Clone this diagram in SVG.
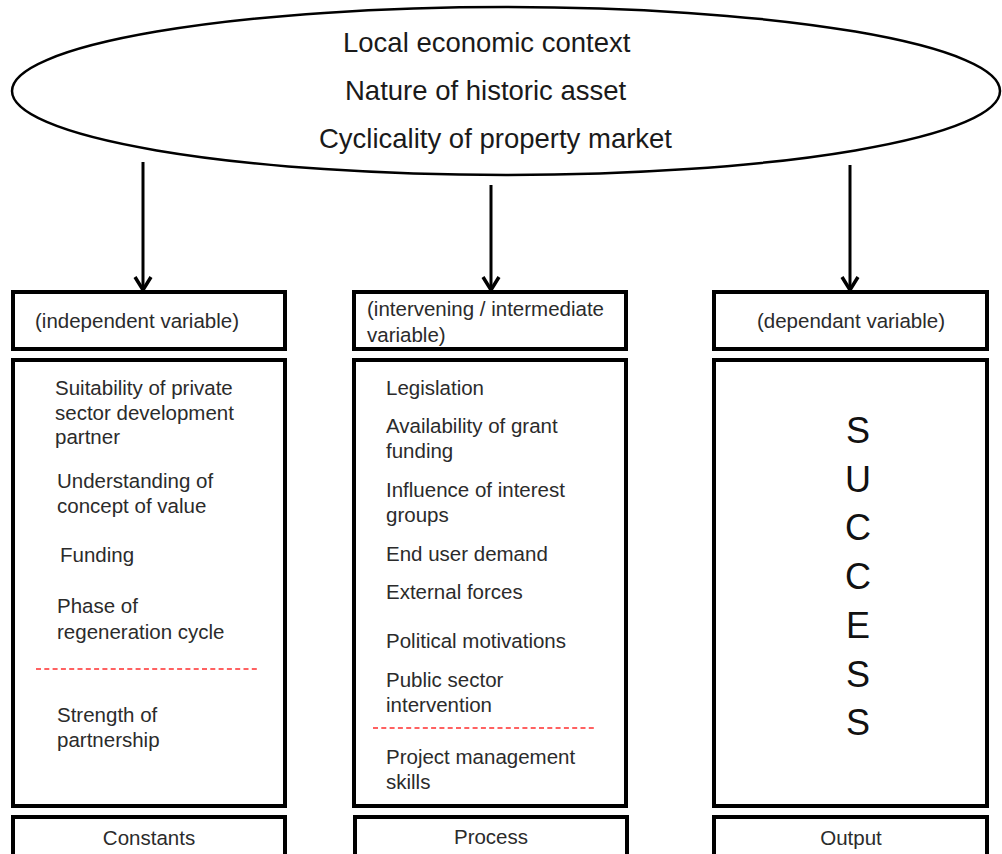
<svg xmlns="http://www.w3.org/2000/svg" width="1002" height="854" viewBox="0 0 1002 854">
<style>
  .box { fill: #ffffff; stroke: #000000; stroke-width: 4; }
  .t { font-family: "Liberation Sans", Arial, sans-serif; font-size: 20.5px; fill: #2b2b2b; }
  .big { font-family: "Liberation Sans", Arial, sans-serif; font-size: 27.5px; fill: #1a1a1a; }
  .succ { font-family: "Liberation Sans", Arial, sans-serif; font-size: 36px; fill: #111111; text-anchor: middle; }
  .mid { text-anchor: middle; }
  .dash { stroke: #ff2e2e; stroke-width: 1.7; stroke-dasharray: 5 3.3; fill: none; }
  .conn { stroke: #000000; stroke-width: 3; fill: none; }
</style>
<defs>
  <marker id="arr" markerUnits="userSpaceOnUse" viewBox="-20 -12 24 24" markerWidth="24" markerHeight="24" refX="0" refY="0" orient="auto">
    <path d="M-14,-8 L-1,0 L-14,8" fill="none" stroke="#000000" stroke-width="3.5" stroke-linejoin="miter"/>
  </marker>
</defs>
<rect width="1002" height="854" fill="#ffffff"/>

<g id="context">
  <ellipse cx="506" cy="91" rx="494" ry="84" fill="#ffffff" stroke="#000000" stroke-width="2.5"/>
  <text class="big" x="343" y="52">Local economic context</text>
  <text class="big" x="345" y="100">Nature of historic asset</text>
  <text class="big" x="319" y="148">Cyclicality of property market</text>
</g>

<g id="connectors">
  <line class="conn" x1="143" y1="162" x2="143" y2="291" marker-end="url(#arr)"/>
  <line class="conn" x1="491" y1="185" x2="491" y2="291" marker-end="url(#arr)"/>
  <line class="conn" x1="850" y1="165" x2="850" y2="291" marker-end="url(#arr)"/>
</g>

<g id="independent-header">
  <rect class="box" x="13" y="292" width="272" height="57"/>
  <text class="t" x="35" y="328">(independent variable)</text>
</g>

<g id="independent-list">
  <rect class="box" x="13" y="360" width="272" height="446"/>
  <text class="t" x="55" y="395">Suitability of private</text>
  <text class="t" x="55" y="420">sector development</text>
  <text class="t" x="55" y="444">partner</text>
  <text class="t" x="57" y="488">Understanding of</text>
  <text class="t" x="57" y="513">concept of value</text>
  <text class="t" x="60" y="562">Funding</text>
  <text class="t" x="57" y="613">Phase of</text>
  <text class="t" x="57" y="639">regeneration cycle</text>
  <line class="dash" x1="36" y1="669" x2="260" y2="669"/>
  <text class="t" x="57" y="722">Strength of</text>
  <text class="t" x="57" y="747">partnership</text>
</g>

<g id="constants">
  <rect class="box" x="13" y="817" width="272" height="60"/>
  <text class="t mid" x="149" y="845">Constants</text>
</g>

<g id="intervening-header">
  <rect class="box" x="354" y="292" width="272" height="57"/>
  <text class="t" x="367" y="316">(intervening / intermediate</text>
  <text class="t" x="367" y="342">variable)</text>
</g>

<g id="intervening-list">
  <rect class="box" x="354" y="360" width="272" height="446"/>
  <text class="t" x="386" y="395">Legislation</text>
  <text class="t" x="386" y="433">Availability of grant</text>
  <text class="t" x="386" y="458">funding</text>
  <text class="t" x="386" y="497">Influence of interest</text>
  <text class="t" x="386" y="522">groups</text>
  <text class="t" x="386" y="561">End user demand</text>
  <text class="t" x="386" y="599">External forces</text>
  <text class="t" x="386" y="648">Political motivations</text>
  <text class="t" x="386" y="687">Public sector</text>
  <text class="t" x="386" y="712">intervention</text>
  <line class="dash" x1="373" y1="728" x2="596" y2="728"/>
  <text class="t" x="386" y="764">Project management</text>
  <text class="t" x="386" y="789">skills</text>
</g>

<g id="process">
  <rect class="box" x="355" y="817" width="272" height="60"/>
  <text class="t mid" x="491" y="844">Process</text>
</g>

<g id="dependant-header">
  <rect class="box" x="714" y="292" width="273" height="57"/>
  <text class="t mid" x="851" y="328">(dependant variable)</text>
</g>

<g id="dependant-list">
  <rect class="box" x="714" y="360" width="273" height="446"/>
  <text class="succ" x="858" y="443">S</text>
  <text class="succ" x="858" y="492">U</text>
  <text class="succ" x="858" y="540">C</text>
  <text class="succ" x="858" y="589">C</text>
  <text class="succ" x="858" y="638">E</text>
  <text class="succ" x="858" y="687">S</text>
  <text class="succ" x="858" y="735">S</text>
</g>

<g id="output">
  <rect class="box" x="714" y="817" width="273" height="60"/>
  <text class="t mid" x="851" y="845">Output</text>
</g>
</svg>
